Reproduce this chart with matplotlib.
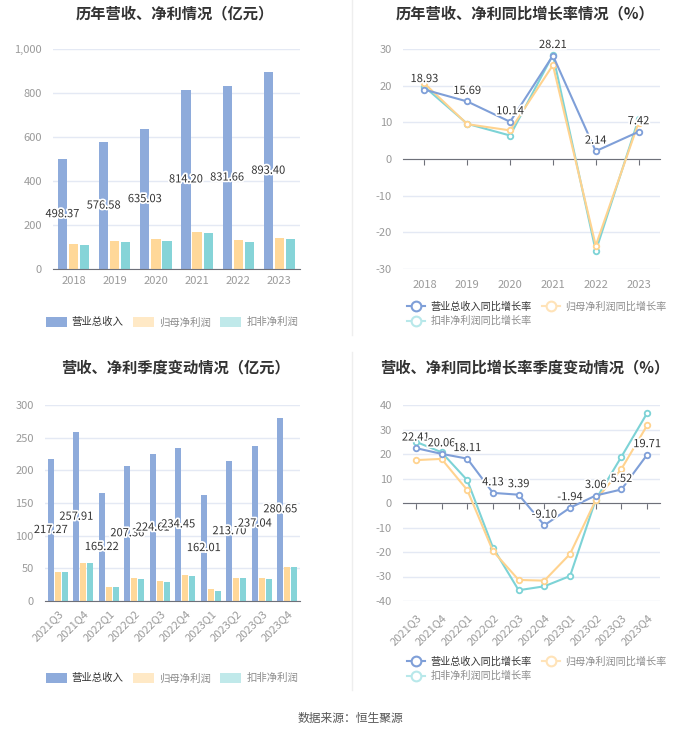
import numpy as np
import matplotlib
matplotlib.use("Agg")
import matplotlib.pyplot as plt
import matplotlib.patheffects as pe
from matplotlib.lines import Line2D
from matplotlib.patches import Patch

plt.rcParams["font.family"] = ["Noto Sans CJK SC", "DejaVu Sans"]

# ---------------------------------------------------------------------------
# Data
# ---------------------------------------------------------------------------
years = ["2018", "2019", "2020", "2021", "2022", "2023"]
rev_year = [498.37, 576.58, 635.03, 814.20, 831.66, 893.40]
np_year = [115.0, 125.5, 135.5, 170.0, 130.0, 142.5]
dnp_year = [110.5, 121.0, 129.0, 165.5, 124.0, 137.5]

rev_year_g = [18.93, 15.69, 10.14, 28.21, 2.14, 7.42]
np_year_g = [20.6, 9.5, 7.8, 25.6, -23.6, 9.9]
dnp_year_g = [19.7, 9.6, 6.4, 28.4, -25.1, 10.9]

quarters = ["2021Q3", "2021Q4", "2022Q1", "2022Q2", "2022Q3",
            "2022Q4", "2023Q1", "2023Q2", "2023Q3", "2023Q4"]
rev_q = [217.27, 257.91, 165.22, 207.36, 224.61, 234.45, 162.01, 213.70, 237.04, 280.65]
np_q = [44.5, 58.0, 22.0, 34.5, 30.5, 40.0, 18.0, 35.0, 35.0, 52.5]
dnp_q = [44.5, 57.5, 21.5, 34.0, 28.5, 38.0, 15.5, 34.5, 34.0, 52.0]

rev_q_g = [22.41, 20.06, 18.11, 4.13, 3.39, -9.10, -1.94, 3.06, 5.52, 19.71]
np_q_g = [17.5, 18.0, 5.3, -19.6, -31.4, -31.7, -20.8, 1.2, 13.9, 31.7]
dnp_q_g = [25.0, 20.7, 9.3, -18.2, -35.6, -34.0, -29.8, 1.4, 18.9, 36.7]

bar_names = ["营业总收入", "归母净利润", "扣非净利润"]
line_names = ["营业总收入同比增长率", "归母净利润同比增长率", "扣非净利润同比增长率"]

# ---------------------------------------------------------------------------
# Style
# ---------------------------------------------------------------------------
BAR_COLORS = ["#8eabdb", "#ffd899", "#86d4d8"]
LEG_BAR_COLORS = ["#8eabdb", "#ffe9c6", "#c0e9ea"]
LINE_COLORS = ["#7f9fd8", "#ffd38f", "#7dd3d6"]
LEG_LINE_COLORS = ["#7f9fd8", "#ffe3b8", "#b8e8ea"]
LEG_TEXT = ["#333333", "#8c8c8c", "#8c8c8c"]
GRID = "#e4e9f4"
TICK = "#9a9a9a"
AXIS = "#6e7079"
TXT = "#333333"
STROKE = [pe.withStroke(linewidth=2.5, foreground="white")]

W, H = 700, 734
fig = plt.figure(figsize=(W / 100, H / 100), dpi=100)
fig.patch.set_facecolor("white")


def px_axes(x0, y0, x1, y1):
    return fig.add_axes([x0 / W, 1 - y1 / H, (x1 - x0) / W, (y1 - y0) / H])


def style_common(ax, ylim, yticks, fmt="{:g}"):
    ax.set_ylim(*ylim)
    ax.set_yticks(yticks)
    ax.set_yticklabels([fmt.format(v) for v in yticks], color=TICK, fontsize=8)
    ax.tick_params(axis="y", length=0, pad=8)
    ax.grid(axis="y", color=GRID, linewidth=1)
    ax.set_axisbelow(True)
    for s in ["top", "right", "left"]:
        ax.spines[s].set_visible(False)


def bar_panel(ax, cats, series, ylim, yticks, fmt, rot):
    x = np.arange(len(cats))
    offs = [-0.27, 0.0, 0.27]
    for vals, off, c in zip(series, offs, BAR_COLORS):
        ax.bar(x + off, vals, width=0.225, color=c, zorder=2)
    for xi, v in zip(x, series[0]):
        ax.text(xi + offs[0], v / 2, f"{v:.2f}", ha="center", va="center",
                fontsize=8, color=TXT, path_effects=STROKE, zorder=5)
    style_common(ax, ylim, yticks, fmt)
    ax.set_xlim(-0.5, len(cats) - 0.5)
    ax.set_xticks(x)
    if rot:
        ax.set_xticklabels(cats, rotation=45, ha="right", rotation_mode="anchor",
                           color=TICK, fontsize=8)
    else:
        ax.set_xticklabels(cats, color=TICK, fontsize=8)
    ax.tick_params(axis="x", length=0, pad=5)
    ax.spines["bottom"].set_color(AXIS)


def line_panel(ax, cats, series, ylim, yticks, rot):
    x = np.arange(len(cats))
    for i in [2, 1, 0]:
        ax.plot(x, series[i], color=LINE_COLORS[i], lw=1.5, marker="o", ms=4,
                mfc="white", mew=1.3, zorder=3 + (i == 0))
    for xi, v in zip(x, series[0]):
        ax.annotate(f"{v:.2f}", (xi, v), xytext=(0, 4), textcoords="offset points",
                    ha="center", va="bottom", fontsize=8, color=TXT,
                    path_effects=STROKE, zorder=6)
    style_common(ax, ylim, yticks)
    ax.set_xlim(-0.5, len(cats) - 0.5)
    ax.spines["bottom"].set_position(("data", 0))
    ax.spines["bottom"].set_color(AXIS)
    ax.set_xticks(x)
    ax.tick_params(axis="x", length=4, color=AXIS, labelbottom=False)
    sec = ax.secondary_xaxis(0.0)
    sec.spines["bottom"].set_visible(False)
    sec.set_xticks(x)
    if rot:
        sec.set_xticklabels(cats, rotation=45, ha="right", rotation_mode="anchor",
                            color=TICK, fontsize=8)
    else:
        sec.set_xticklabels(cats, color=TICK, fontsize=8)
    sec.tick_params(axis="x", length=0, pad=8)


def bar_legend(y):
    handles = [Patch(facecolor=c, edgecolor="none") for c in LEG_BAR_COLORS]
    leg = fig.legend(handles, bar_names, loc="center", bbox_to_anchor=(172 / W, 1 - y / H),
                     ncol=3, frameon=False, fontsize=7.5, handlelength=2.0,
                     handleheight=1.2, columnspacing=0.9, handletextpad=0.5)
    for t, c in zip(leg.get_texts(), LEG_TEXT):
        t.set_color(c)


def line_legend(y):
    handles = [Line2D([], [], color=c, marker="o", ms=7, mfc="white", mew=1.5, lw=1.5)
               for c in LEG_LINE_COLORS]
    order = [0, 2, 1]
    leg = fig.legend([handles[i] for i in order], [line_names[i] for i in order],
                     loc="upper left", bbox_to_anchor=(398 / W, 1 - y / H), ncol=2,
                     frameon=False, fontsize=7.3, handlelength=1.8, columnspacing=1.0,
                     handletextpad=0.5, labelspacing=0.45)
    for t, i in zip(leg.get_texts(), order):
        t.set_color(LEG_TEXT[i])


# ---------------------------------------------------------------------------
# Panels
# ---------------------------------------------------------------------------
ax1 = px_axes(53, 49, 300, 269)
bar_panel(ax1, years, [rev_year, np_year, dnp_year], (0, 1000),
          list(range(0, 1001, 200)), "{:,.0f}", False)

ax2 = px_axes(403, 49, 660, 269)
line_panel(ax2, years, [rev_year_g, np_year_g, dnp_year_g], (-30, 30),
           list(range(-30, 31, 10)), False)

ax3 = px_axes(45, 405, 300, 601)
bar_panel(ax3, quarters, [rev_q, np_q, dnp_q], (0, 300),
          list(range(0, 301, 50)), "{:g}", True)

ax4 = px_axes(403, 405, 660, 601)
line_panel(ax4, quarters, [rev_q_g, np_q_g, dnp_q_g], (-40, 40),
           list(range(-40, 41, 10)), True)

# titles
title_kw = dict(ha="center", va="center", fontsize=11, fontweight="bold", color=TXT)
fig.text(175 / W, 1 - 13 / H, "历年营收、净利情况（亿元）", **title_kw)
fig.text(525 / W, 1 - 13 / H, "历年营收、净利同比增长率情况（%）", **title_kw)
fig.text(175 / W, 1 - 367 / H, "营收、净利季度变动情况（亿元）", **title_kw)
fig.text(525 / W, 1 - 367 / H, "营收、净利同比增长率季度变动情况（%）", **title_kw)

bar_legend(322)
line_legend(292)
bar_legend(678)
line_legend(647)

# dividers
fig.add_artist(Line2D([352 / W, 352 / W], [1, 1 - 335 / H], transform=fig.transFigure,
                      color="#eeeeee", lw=1))
fig.add_artist(Line2D([352 / W, 352 / W], [1 - 352 / H, 1 - 690 / H],
                      transform=fig.transFigure, color="#eeeeee", lw=1))

fig.text(350 / W, 1 - 718 / H, "数据来源：恒生聚源", ha="center", va="center",
         fontsize=8.5, color="#555555")

fig.savefig("out.png", dpi=100, facecolor="white")
